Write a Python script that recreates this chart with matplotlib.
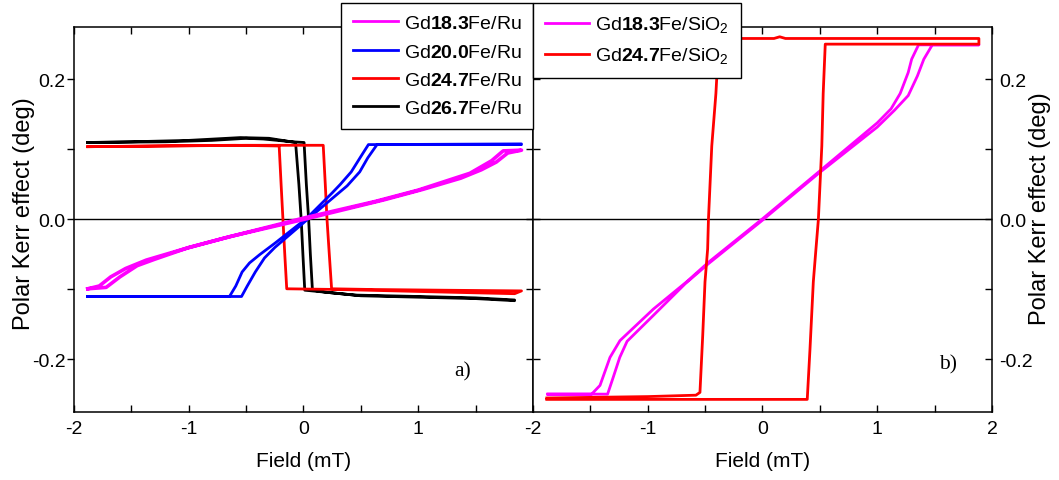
import matplotlib
matplotlib.use('Agg')
import matplotlib.pyplot as plt
from matplotlib.ticker import MultipleLocator, FuncFormatter

plt.rcParams['font.family'] = ['Liberation Sans', 'DejaVu Sans']
plt.rcParams['mathtext.fontset'] = 'custom'
plt.rcParams['mathtext.rm'] = 'Liberation Sans'
plt.rcParams['mathtext.bf'] = 'Liberation Sans:bold'
plt.rcParams['axes.unicode_minus'] = False

# panel a) - Gd-Fe on Ru, field sweep up then back down
ru183_h = [-1.88, -1.72, -1.60, -1.45, -1.30, -1.00, -0.63, 0.00, 0.70, 1.04, 1.37, 1.55, 1.68, 1.78, 1.90,
           1.74, 1.64, 1.45, 1.30, 1.00, 0.63, 0.00, -0.70, -1.04, -1.37, -1.55, -1.68, -1.78, -1.88]
ru183_k = [-0.099, -0.097, -0.082, -0.066, -0.057, -0.040, -0.024, 0.000, 0.028, 0.043, 0.059, 0.071, 0.082, 0.095, 0.099,
           0.098, 0.084, 0.066, 0.058, 0.042, 0.026, 0.002, -0.027, -0.042, -0.058, -0.070, -0.082, -0.095, -0.099]

ru200_h = [-1.88, -0.54, -0.49, -0.42, -0.34, -0.25, 0.02, 0.25, 0.38, 0.49, 0.56, 0.641, 1.90,
           1.90, 0.566, 0.50, 0.416, 0.32, 0.25, 0.03, -0.25, -0.38, -0.47, -0.535, -0.59, -0.645, -1.88]
ru200_k = [-0.110, -0.110, -0.095, -0.075, -0.055, -0.040, -0.002, 0.030, 0.048, 0.068, 0.088, 0.107, 0.108,
           0.107, 0.107, 0.090, 0.068, 0.050, 0.038, 0.002, -0.034, -0.050, -0.062, -0.075, -0.095, -0.110, -0.110]

ru247_h = [-1.88, -1.20, -0.50, 0.172, 0.19, 0.205, 0.225, 0.245, 0.60, 1.20, 1.90,
           1.84, 1.30, 0.80, 0.30, -0.146, -0.163, -0.179, -0.195, -0.212, -0.60, -1.30, -1.88]
ru247_k = [0.104, 0.105, 0.106, 0.106, 0.050, 0.000, -0.050, -0.099, -0.100, -0.101, -0.102,
           -0.106, -0.104, -0.102, -0.100, -0.099, -0.050, 0.000, 0.050, 0.105, 0.106, 0.105, 0.104]

ru267_h = [-1.88, -1.20, -0.80, -0.50, -0.35, -0.10, 0.005, 0.025, 0.045, 0.06, 0.078, 0.20, 0.45, 1.00, 1.50, 1.84,
           1.84, 1.50, 1.00, 0.50, 0.20, 0.011, -0.005, -0.02, -0.04, -0.069, -0.30, -0.55, -1.00, -1.50, -1.88]
ru267_k = [0.110, 0.111, 0.113, 0.116, 0.115, 0.111, 0.110, 0.050, 0.000, -0.050, -0.101, -0.104, -0.108, -0.110, -0.112, -0.115,
           -0.116, -0.113, -0.111, -0.109, -0.104, -0.101, -0.050, 0.000, 0.050, 0.110, 0.116, 0.117, 0.113, 0.111, 0.110]

# panel b) - Gd-Fe on SiO2
si183_h = [-1.87, -1.35, -1.30, -1.244, -1.18, -0.951, -0.675, -0.47, 0.00, 0.49, 1.00, 1.15, 1.27, 1.35, 1.406, 1.48, 1.886,
           1.886, 1.36, 1.30, 1.27, 1.20, 1.12, 1.00, 0.49, 0.00, -0.47, -0.661, -0.951, -1.242, -1.329, -1.416, -1.489, -1.87]
si183_k = [-0.2495, -0.2495, -0.225, -0.197, -0.174, -0.137, -0.092, -0.063, -0.001, 0.066, 0.132, 0.156, 0.177, 0.205, 0.229, 0.2495, 0.2495,
           0.2495, 0.2495, 0.229, 0.210, 0.180, 0.158, 0.138, 0.068, 0.001, -0.061, -0.089, -0.128, -0.173, -0.197, -0.237, -0.2495, -0.2495]

si247_h = [-1.88, 0.39, 0.414, 0.443, 0.466, 0.487, 0.517, 0.529, 0.547, 1.886,
           1.886, 0.20, 0.15, 0.10, -0.38, -0.406, -0.442, -0.471, -0.478, -0.501, -0.521, -0.545, -0.58, -1.00, -1.88]
si247_k = [-0.257, -0.257, -0.185, -0.089, -0.042, 0.000, 0.105, 0.180, 0.2505, 0.2505,
           0.2586, 0.2586, 0.2610, 0.2586, 0.2586, 0.180, 0.105, 0.000, -0.042, -0.089, -0.166, -0.247, -0.251, -0.253, -0.255]

labels_ru = [r'Gd$\mathbf{18.3}$Fe/Ru', r'Gd$\mathbf{20.0}$Fe/Ru',
             r'Gd$\mathbf{24.7}$Fe/Ru', r'Gd$\mathbf{26.7}$Fe/Ru']
labels_si = [r'Gd$\mathbf{18.3}$Fe/SiO$_\mathrm{2}$', r'Gd$\mathbf{24.7}$Fe/SiO$_\mathrm{2}$']

fig = plt.figure(figsize=(10.59, 4.81), dpi=100)
axL = fig.add_axes([0.06988, 0.1414, 0.4334, 0.8004])
axR = fig.add_axes([0.50331, 0.1414, 0.4334, 0.8004])


def xfmt(v, pos, skip_right):
    if abs(v - round(v)) > 1e-6:
        return ''
    if skip_right and round(v) == 2:
        return ''
    return '%d' % round(v)


def yfmt(v, pos):
    r = round(v / 0.2, 6)
    if abs(r - round(r)) > 1e-6:
        return ''
    val = round(r) * 0.2
    if abs(val) < 1e-9:
        val = 0.0
    return '%.1f' % val


for ax, skip in ((axL, True), (axR, False)):
    ax.set_xlim(-2, 2)
    ax.set_ylim(-0.275, 0.275)
    ax.axhline(0, color='black', lw=1.0, zorder=1)
    ax.xaxis.set_major_locator(MultipleLocator(0.5))
    ax.xaxis.set_major_formatter(FuncFormatter(lambda v, p, s=skip: xfmt(v, p, s)))
    ax.yaxis.set_major_locator(MultipleLocator(0.1))
    ax.yaxis.set_major_formatter(FuncFormatter(yfmt))
    ax.tick_params(axis='x', direction='in', top=True, bottom=True, length=5, width=1,
                   labelsize=14, pad=6)
    for s in ax.spines.values():
        s.set_linewidth(1.1)

axL.tick_params(axis='y', direction='out', left=True, right=False, length=5, width=1,
                labelsize=14, pad=1)
sec = axL.secondary_yaxis('right')
sec.yaxis.set_major_locator(MultipleLocator(0.1))
sec.tick_params(axis='y', direction='in', length=5, width=1, labelright=False)

axR.tick_params(axis='y', direction='in', left=True, right=True, labelleft=False,
                labelright=True, length=5, width=1, labelsize=14, pad=5)

lines_ru = []
for h, k, c, lw in ((ru267_h, ru267_k, 'black', 2.0), (ru247_h, ru247_k, '#ff0000', 2.0),
                    (ru200_h, ru200_k, '#0000ff', 2.0), (ru183_h, ru183_k, '#ff00ff', 2.6)):
    ln, = axL.plot(h, k, color=c, lw=lw, zorder=2)
    lines_ru.append(ln)
lines_ru = lines_ru[::-1]

lines_si = []
for h, k, c in ((si183_h, si183_k, '#ff00ff'), (si247_h, si247_k, '#ff0000')):
    ln, = axR.plot(h, k, color=c, lw=2.0, zorder=2)
    lines_si.append(ln)

axL.set_xlabel('Field (mT)', fontsize=15, va='center')
axL.xaxis.set_label_coords(0.5, -0.127)
axR.set_xlabel('Field (mT)', fontsize=15, va='center')
axR.xaxis.set_label_coords(0.5, -0.127)

axL.set_ylabel('Polar Kerr effect (deg)', fontsize=17, va='center')
axL.yaxis.set_label_coords(-0.108, 0.517)
axR.yaxis.set_label_position('right')
axR.set_ylabel('Polar Kerr effect (deg)', fontsize=17, va='center', rotation=90)
axR.yaxis.set_label_coords(1.1046, 0.53)

axL.text(1.39, -0.216, 'a)', family='Liberation Serif', fontsize=15.5, ha='center', va='center')
axR.text(1.617, -0.206, 'b)', family='Liberation Serif', fontsize=15.5, ha='center', va='center')

leg_kw = dict(bbox_to_anchor=(0.50331, 0.9917), bbox_transform=fig.transFigure,
              fontsize=14, frameon=True, fancybox=False, framealpha=1, edgecolor='black',
              borderpad=0.6, labelspacing=0.55, handlelength=2.3, handletextpad=0.3,
              borderaxespad=0)
legL = fig.legend(handles=lines_ru, labels=labels_ru, loc='upper right', **leg_kw)
legR = fig.legend(handles=lines_si, labels=labels_si, loc='upper left', **leg_kw)
for lg in (legL, legR):
    lg.get_frame().set_linewidth(1.0)
    for ln in lg.get_lines():
        ln.set_linewidth(2.0)

fig.savefig('out.png', dpi=100)
